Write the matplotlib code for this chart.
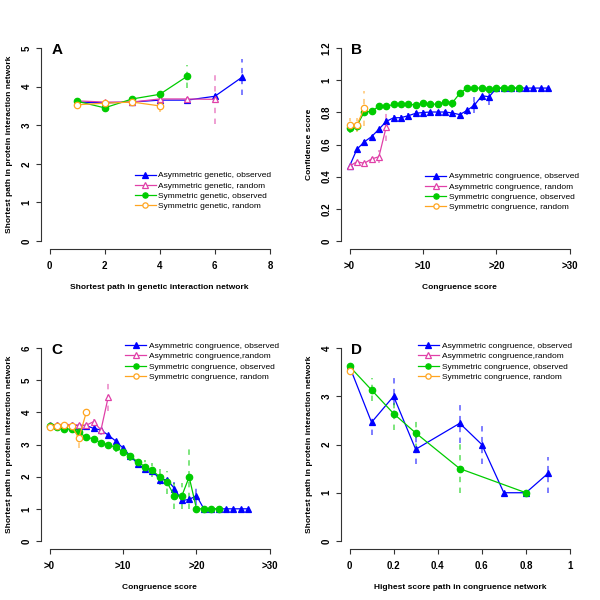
import matplotlib
matplotlib.use("Agg")
import matplotlib.pyplot as plt
from matplotlib.lines import Line2D
import numpy as np

plt.rcParams['font.family'] = ['Liberation Sans', 'DejaVu Sans']

BLUE = "#0000FF"
PINK = "#E040A8"
GREEN = "#00CC00"
ORANGE = "#FFA520"

# ---------------- Panel A ----------------
a_x_asym_obs = [1, 2, 3, 4, 5, 6, 7]
a_y_asym_obs = [3.60, 3.58, 3.60, 3.65, 3.65, 3.75, 4.25]
a_e_asym_obs = [0.03, 0.03, 0.03, 0.04, 0.04, 0.06, 0.47]
a_x_asym_rnd = [1, 2, 3, 4, 5, 6]
a_y_asym_rnd = [3.63, 3.60, 3.60, 3.68, 3.68, 3.67]
a_e_asym_rnd = [0.05, 0.04, 0.04, 0.04, 0.05, 0.65]
a_x_sym_obs = [1, 2, 3, 4, 5]
a_y_sym_obs = [3.62, 3.45, 3.68, 3.80, 4.27]
a_e_sym_obs = [0.04, 0.04, 0.04, 0.05, 0.30]
a_x_sym_rnd = [1, 2, 3, 4]
a_y_sym_rnd = [3.53, 3.57, 3.60, 3.50]
a_e_sym_rnd = [0.03, 0.03, 0.04, 0.15]
a_labels = ["Asymmetric genetic, observed", "Asymmetric genetic, random",
            "Symmetric genetic, observed", "Symmetric genetic, random"]

# ---------------- Panel B ----------------
b_x_asym_obs = list(range(0, 28))
b_y_asym_obs = [0.465, 0.570, 0.616, 0.649, 0.695, 0.744, 0.766, 0.767, 0.779, 0.794,
                0.799, 0.802, 0.802, 0.802, 0.796, 0.786, 0.812, 0.845, 0.903, 0.897,
                0.951, 0.951, 0.951, 0.951, 0.951, 0.951, 0.951, 0.951]
b_e_asym_obs = [0.01, 0.01, 0.01, 0.01, 0.01, 0.015, 0.015, 0.015, 0.015, 0.015,
                0.015, 0.015, 0.015, 0.015, 0.02, 0.025, 0.03, 0.05, 0.03, 0.05,
                0.0, 0.0, 0.0, 0.0, 0.0, 0.0, 0.0, 0.0]
b_x_asym_rnd = [0, 1, 2, 3, 4, 5]
b_y_asym_rnd = [0.465, 0.493, 0.483, 0.510, 0.524, 0.711]
b_e_asym_rnd = [0.005, 0.01, 0.01, 0.015, 0.04, 0.09]
b_x_sym_obs = list(range(0, 24))
b_y_sym_obs = [0.700, 0.716, 0.802, 0.806, 0.838, 0.838, 0.849, 0.850, 0.849, 0.847,
               0.855, 0.853, 0.849, 0.866, 0.860, 0.918, 0.951, 0.951, 0.951, 0.946,
               0.951, 0.950, 0.950, 0.950]
b_e_sym_obs = [0.03, 0.03, 0.02, 0.02, 0.02, 0.02, 0.02, 0.02, 0.02, 0.02,
               0.02, 0.02, 0.02, 0.02, 0.03, 0.02, 0.01, 0.0, 0.0, 0.0,
               0.0, 0.0, 0.0, 0.0]
b_x_sym_rnd = [0, 1, 2]
b_y_sym_rnd = [0.722, 0.720, 0.825]
b_e_sym_rnd = [0.045, 0.045, 0.11]
b_labels = ["Asymmetric congruence, observed", "Asymmetric congruence, random",
            "Symmetric congruence, observed", "Symmetric congruence, random"]

# ---------------- Panel C ----------------
c_x_asym_obs = list(range(0, 28))
c_y_asym_obs = [3.61, 3.60, 3.60, 3.60, 3.59, 3.59, 3.50, 3.45, 3.29, 3.11,
                2.89, 2.64, 2.40, 2.23, 2.19, 1.91, 1.91, 1.63, 1.26, 1.29,
                1.41, 1.0, 1.0, 1.0, 1.0, 1.0, 1.0, 1.0]
c_e_asym_obs = [0.02, 0.02, 0.02, 0.02, 0.02, 0.03, 0.03, 0.04, 0.05, 0.07,
                0.10, 0.10, 0.10, 0.10, 0.12, 0.15, 0.15, 0.20, 0.10, 0.10,
                0.30, 0.0, 0.0, 0.0, 0.0, 0.0, 0.0, 0.0]
c_x_asym_rnd = [0, 1, 2, 3, 4, 5, 6, 7, 8]
c_y_asym_rnd = [3.62, 3.62, 3.62, 3.62, 3.60, 3.60, 3.71, 3.45, 4.49]
c_e_asym_rnd = [0.05, 0.04, 0.04, 0.04, 0.04, 0.05, 0.08, 0.15, 0.45]
c_x_sym_obs = list(range(0, 24))
c_y_sym_obs = [3.58, 3.54, 3.49, 3.47, 3.38, 3.22, 3.18, 3.05, 3.00, 2.91,
               2.78, 2.64, 2.46, 2.31, 2.20, 1.99, 1.82, 1.40, 1.40, 1.99,
               1.0, 1.0, 1.0, 1.0]
c_e_sym_obs = [0.04, 0.04, 0.04, 0.04, 0.05, 0.06, 0.06, 0.08, 0.10, 0.15,
               0.15, 0.15, 0.15, 0.20, 0.22, 0.25, 0.35, 0.40, 0.40, 1.0,
               0.0, 0.0, 0.0, 0.0]
c_x_sym_rnd = [0, 1, 2, 3, 4, 5]
c_y_sym_rnd = [3.55, 3.57, 3.60, 3.57, 3.20, 4.00]
c_e_sym_rnd = [0.04, 0.04, 0.05, 0.06, 0.30, 0.05]
c_labels = ["Asymmetric congruence, observed", "Asymmetric congruence,random",
            "Symmetric congruence, observed", "Symmetric congruence, random"]

# ---------------- Panel D ----------------
d_x_asym_obs = [0.0, 0.1, 0.2, 0.3, 0.5, 0.6, 0.7, 0.8, 0.9]
d_y_asym_obs = [3.62, 2.46, 3.00, 1.90, 2.44, 2.00, 1.00, 1.00, 1.40]
d_lo_asym_obs = [3.60, 2.20, 2.60, 1.60, 2.03, 1.60, 1.00, 1.00, 1.00]
d_hi_asym_obs = [3.64, 2.56, 3.43, 2.20, 2.82, 2.38, 1.00, 1.00, 1.75]
d_x_asym_rnd = [0.0]
d_y_asym_rnd = [3.60]
d_x_sym_obs = [0.0, 0.1, 0.2, 0.3, 0.5, 0.8]
d_y_sym_obs = [3.62, 3.13, 2.64, 2.24, 1.50, 1.00]
d_lo_sym_obs = [3.60, 2.90, 2.30, 1.90, 1.00, 1.00]
d_hi_sym_obs = [3.64, 3.38, 3.00, 2.56, 2.03, 1.00]
d_x_sym_rnd = [0.0]
d_y_sym_rnd = [3.53]
d_labels = c_labels

MS = 4.6
STYLES = [
    dict(color=BLUE, marker='^', mfc=BLUE, mec=BLUE, ms=MS),
    dict(color=PINK, marker='^', mfc='white', mec=PINK, ms=MS),
    dict(color=GREEN, marker='o', mfc=GREEN, mec=GREEN, ms=MS),
    dict(color=ORANGE, marker='o', mfc='white', mec=ORANGE, ms=MS),
]

TICKFS = 7.0
LABFS = 6.0
LEGFS = 6.0

fig = plt.figure(figsize=(6, 6), dpi=100)


def make_ax(left_px, top_px, xt, xtl, yt, ylab, xlab, letter):
    # plot region in pixels with R's 4% extension
    x0, x1 = xt[0], xt[-1]
    y0, y1 = yt[0], yt[-1]
    dx = (x1 - x0) * 0.04
    dy = (y1 - y0) * 0.04
    w_px = 238.1
    h_px = 208.4
    ax = fig.add_axes([left_px / 600, 1 - (top_px + h_px) / 600, w_px / 600, h_px / 600])
    ax.set_xlim(x0 - dx, x1 + dx)
    ax.set_ylim(y0 - dy, y1 + dy)
    for s in ['top', 'right']:
        ax.spines[s].set_visible(False)
    ax.spines['left'].set_bounds(y0, y1)
    ax.spines['bottom'].set_bounds(x0, x1)
    for s in ['left', 'bottom']:
        ax.spines[s].set_linewidth(0.8)
        ax.spines[s].set_color('#333333')
    ax.set_xticks(xt)
    ax.set_xticklabels(xtl, fontsize=TICKFS, fontweight='bold')
    ax.set_yticks(yt)
    ax.set_yticklabels([('%g' % v) for v in yt], fontsize=TICKFS, fontweight='bold',
                       rotation=90, va='center')
    ax.tick_params(length=3.5, width=0.8, color='#333333', pad=5)
    ax.tick_params(axis='y', pad=3)
    ax.set_xlabel(xlab, fontsize=LABFS, fontweight='bold', labelpad=10)
    ax.set_ylabel(ylab, fontsize=LABFS, fontweight='bold', labelpad=6)
    ax.text(0.045, 0.985, letter, transform=ax.transAxes, fontsize=11, fontweight='bold',
            va='top', ha='left')
    return ax


def err(ax, x, lo, hi, color):
    for xi, l, h in zip(x, lo, hi):
        if h - l > 1e-9:
            ax.plot([xi, xi], [l, h], color=color, lw=1.3, ls=(0, (3, 3)), alpha=0.55,
                    zorder=1)


def series(ax, x, y, e, style, lo=None, hi=None):
    x = np.asarray(x, float)
    y = np.asarray(y, float)
    if lo is None and e is not None:
        e = np.asarray(e, float)
        lo, hi = y - e, y + e
    if lo is not None:
        err(ax, x, lo, hi, style['color'])
    ax.plot(x, y, color=style['color'], lw=0.9, marker=style['marker'],
            mfc=style['mfc'], mec=style['mec'], ms=style['ms'], mew=0.9, zorder=3)


def legend(ax, labels, loc_axes):
    handles = [Line2D([0], [0], color=s['color'], lw=0.9, marker=s['marker'], mfc=s['mfc'],
                      mec=s['mec'], ms=3.8, mew=0.9) for s in STYLES]
    ax.legend(handles, labels, loc='upper left', bbox_to_anchor=loc_axes, frameon=False,
              fontsize=LEGFS, handlelength=2.5, handletextpad=0.35, labelspacing=0.28,
              borderaxespad=0, borderpad=0)


ylab_pin = "Shortest path in protein interaction network"
cong_ticks = [0, 10, 20, 30]
cong_labels = [">0", ">10", ">20", ">30"]

# A
axA = make_ax(40.7, 40.3, [0, 2, 4, 6, 8], ["0", "2", "4", "6", "8"], [0, 1, 2, 3, 4, 5],
              ylab_pin, "Shortest path in genetic interaction network", "A")
series(axA, a_x_asym_obs, a_y_asym_obs, a_e_asym_obs, STYLES[0])
series(axA, a_x_asym_rnd, a_y_asym_rnd, a_e_asym_rnd, STYLES[1])
series(axA, a_x_sym_obs, a_y_sym_obs, a_e_sym_obs, STYLES[2])
series(axA, a_x_sym_rnd, a_y_sym_rnd, a_e_sym_rnd, STYLES[3])
legend(axA, a_labels, (0.395, 0.37))

# B
axB = make_ax(340.7, 40.3, cong_ticks, cong_labels, [0, 0.2, 0.4, 0.6, 0.8, 1.0, 1.2],
              "Confidence score", "Congruence score", "B")
series(axB, b_x_asym_obs, b_y_asym_obs, b_e_asym_obs, STYLES[0])
series(axB, b_x_asym_rnd, b_y_asym_rnd, b_e_asym_rnd, STYLES[1])
series(axB, b_x_sym_obs, b_y_sym_obs, b_e_sym_obs, STYLES[2])
series(axB, b_x_sym_rnd, b_y_sym_rnd, b_e_sym_rnd, STYLES[3])
legend(axB, b_labels, (0.355, 0.365))

# C
axC = make_ax(40.7, 340.3, cong_ticks, cong_labels, [0, 1, 2, 3, 4, 5, 6],
              ylab_pin, "Congruence score", "C")
series(axC, c_x_asym_obs, c_y_asym_obs, c_e_asym_obs, STYLES[0])
series(axC, c_x_asym_rnd, c_y_asym_rnd, c_e_asym_rnd, STYLES[1])
series(axC, c_x_sym_obs, c_y_sym_obs, c_e_sym_obs, STYLES[2])
series(axC, c_x_sym_rnd, c_y_sym_rnd, c_e_sym_rnd, STYLES[3])
legend(axC, c_labels, (0.355, 0.99))

# D
axD = make_ax(340.7, 340.3, [0, 0.2, 0.4, 0.6, 0.8, 1.0],
              ["0", "0.2", "0.4", "0.6", "0.8", "1"], [0, 1, 2, 3, 4],
              "Shortest path in protein interaction network",
              "Highest score path in congruence network", "D")
series(axD, d_x_asym_obs, d_y_asym_obs, None, STYLES[0], d_lo_asym_obs, d_hi_asym_obs)
series(axD, d_x_asym_rnd, d_y_asym_rnd, None, STYLES[1])
series(axD, d_x_sym_obs, d_y_sym_obs, None, STYLES[2], d_lo_sym_obs, d_hi_sym_obs)
series(axD, d_x_sym_rnd, d_y_sym_rnd, None, STYLES[3])
legend(axD, d_labels, (0.325, 0.99))

fig.savefig("out.png", dpi=100)
